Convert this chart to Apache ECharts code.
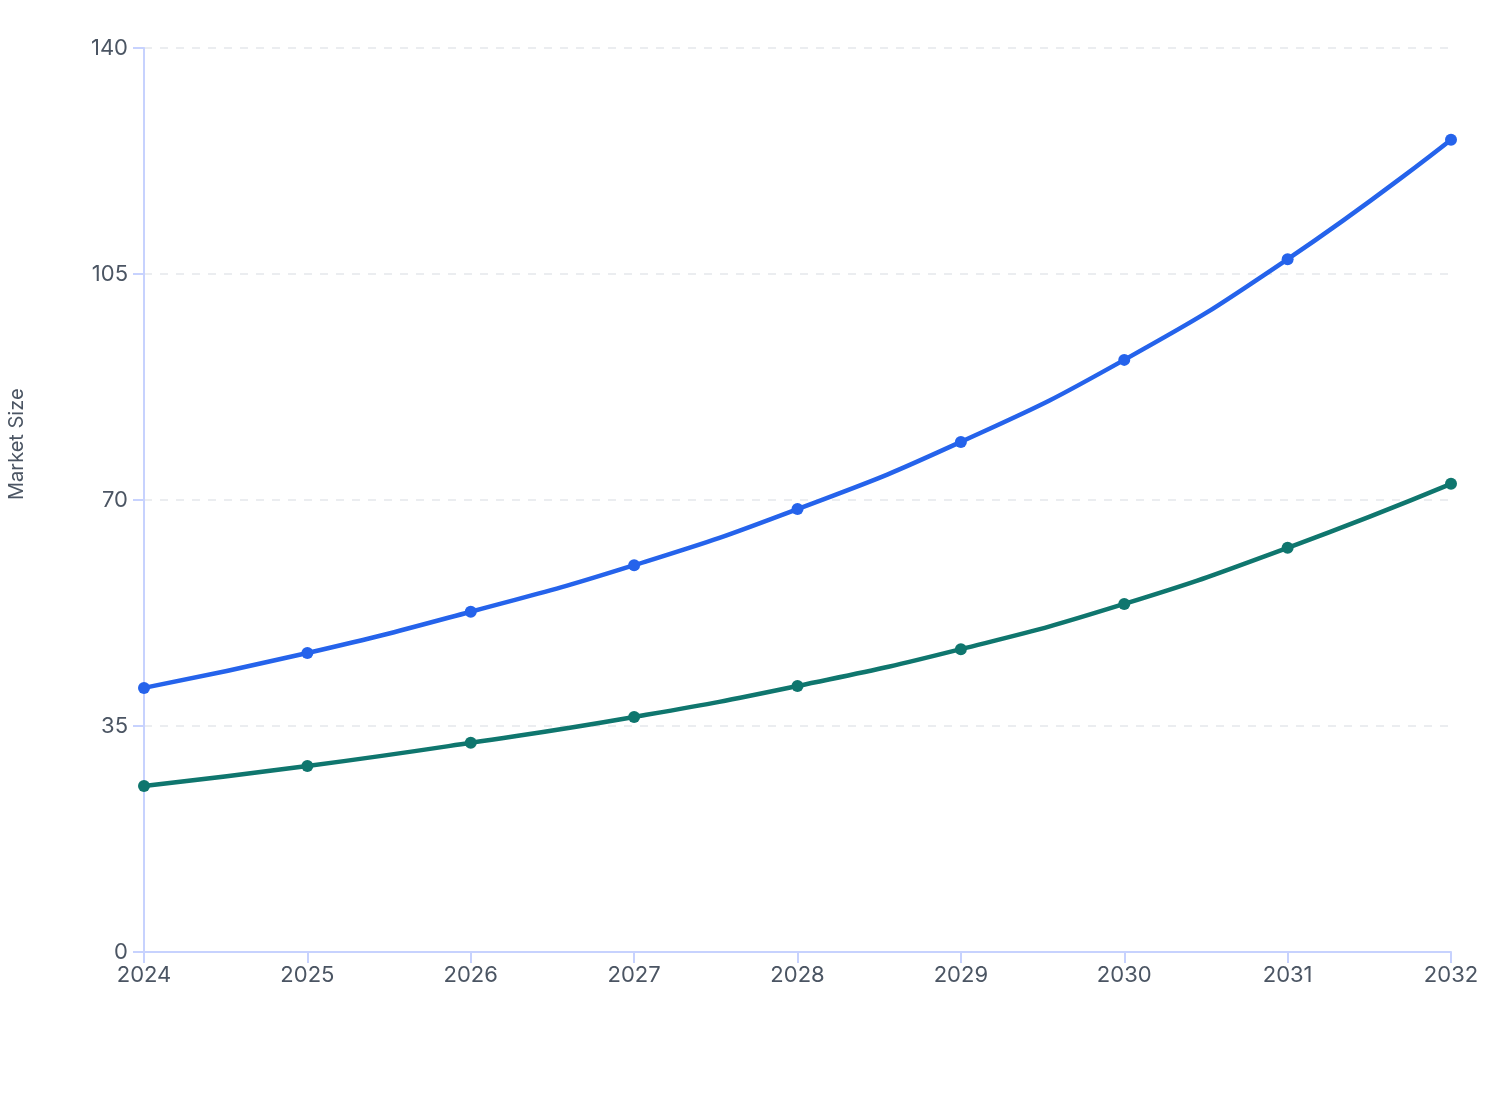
<!DOCTYPE html>
<html><head><meta charset="utf-8">
<script src="https://cdn.jsdelivr.net/npm/echarts@6/dist/echarts.min.js"></script>
<style>html,body{margin:0;padding:0;background:#fff}#c{width:1508px;height:1120px}</style>
</head><body><div id="c"></div>
<script>
const years = ['2024','2025','2026','2027','2028','2029','2030','2031','2032'];
const seriesA = [40.9, 46.3, 52.7, 59.9, 68.6, 79.0, 91.7, 107.3, 125.8];
const seriesB = [25.7, 28.8, 32.4, 36.4, 41.2, 46.9, 53.9, 62.6, 72.5];
const yTicks = [0, 35, 70, 105, 140];
const chart = echarts.init(document.getElementById('c'));
const font = 'Inter, "Noto Sans", sans-serif';
chart.setOption({
  animation: false,
  grid: {left: 144, right: 57, top: 48, bottom: 168, containLabel: false, outerBoundsMode: 'none'},
  xAxis: {
    type: 'category', data: years, boundaryGap: false,
    axisLine: {lineStyle: {color: '#c7d2fe', width: 2}},
    axisTick: {show: true, length: 11, lineStyle: {color: '#c7d2fe', width: 2}},
    axisLabel: {color: '#4b5563', fontSize: 22, fontFamily: font, margin: 12},
    splitLine: {show: false}
  },
  yAxis: {
    type: 'value', min: 0, max: yTicks[yTicks.length-1], interval: 35,
    name: 'Market Size', nameLocation: 'middle', nameGap: 117, nameRotate: 90,
    nameTextStyle: {color: '#4b5563', fontSize: 20, fontFamily: font, align: 'left'},
    axisLine: {show: true, lineStyle: {color: '#c7d2fe', width: 2}},
    axisTick: {show: true, length: 11, lineStyle: {color: '#c7d2fe', width: 2}},
    axisLabel: {color: '#4b5563', fontSize: 22, fontFamily: font, margin: 16},
    splitLine: {show: true, lineStyle: {color: '#e5e7eb', type: [8, 8], width: 1.5}}
  },
  series: [
    {type: 'line', data: seriesA, smooth: true, symbol: 'circle', symbolSize: 12,
     lineStyle: {color: '#2563eb', width: 4.5}, itemStyle: {color: '#2563eb'}},
    {type: 'line', data: seriesB, smooth: true, symbol: 'circle', symbolSize: 12,
     lineStyle: {color: '#0f766e', width: 4.5}, itemStyle: {color: '#0f766e'}}
  ]
});
</script></body></html>
